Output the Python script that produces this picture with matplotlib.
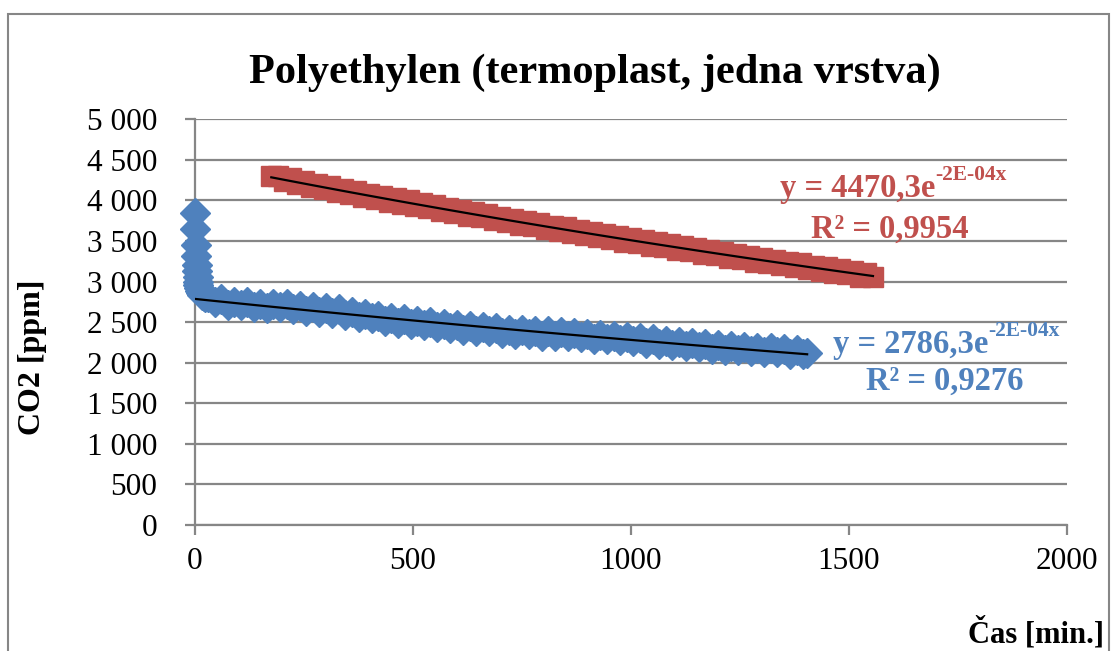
import matplotlib
matplotlib.use("Agg")
import matplotlib.pyplot as plt
import numpy as np
from matplotlib.patches import Rectangle
from matplotlib.ticker import FuncFormatter

plt.rcParams['font.family'] = ['Liberation Serif', 'DejaVu Serif']

# blue series (diamonds)
blue_x = [0, 1, 2, 3, 4, 5, 6, 7, 8, 10, 12, 14, 17, 20, 24,
          30, 45, 60, 75, 90, 105, 120, 135, 150, 165, 180, 195, 210, 225, 240,
          255, 270, 285, 300, 315, 330, 345, 360, 375, 390, 405, 420, 435, 450,
          465, 480, 495, 510, 525, 540, 555, 570, 585, 600, 615, 630, 645, 660,
          675, 690, 705, 720, 735, 750, 765, 780, 795, 810, 825, 840, 855, 870,
          885, 900, 915, 930, 945, 960, 975, 990, 1005, 1020, 1035, 1050, 1065,
          1080, 1095, 1110, 1125, 1140, 1155, 1170, 1185, 1200, 1215, 1230, 1245,
          1260, 1275, 1290, 1305, 1320, 1335, 1350, 1365, 1380, 1395, 1404]
blue_y = [3850, 3645, 3450, 3310, 3210, 3130, 3060, 3000, 2960, 2920, 2885, 2860, 2840, 2820, 2805,
          2810, 2750, 2780, 2715, 2750, 2708, 2747, 2691, 2720, 2675, 2725, 2681, 2722, 2666, 2703,
          2640, 2682, 2630, 2673, 2618, 2656, 2589, 2620, 2558, 2600, 2548, 2577, 2515, 2550,
          2490, 2540, 2482, 2519, 2461, 2496, 2436, 2480, 2426, 2465, 2409, 2448, 2397, 2441,
          2388, 2425, 2364, 2408, 2359, 2403, 2354, 2390, 2335, 2386, 2332, 2373, 2324, 2369,
          2318, 2357, 2296, 2340, 2289, 2333, 2281, 2319, 2262, 2300, 2242, 2289, 2236,
          2273, 2215, 2252, 2200, 2243, 2191, 2230, 2174, 2214, 2159, 2209, 2159,
          2199, 2144, 2184, 2134, 2179, 2129, 2163, 2113, 2152, 2107, 2122]

# red series (squares)
red_x = [175, 190, 205, 220, 235, 250, 265, 280, 295, 310, 325, 340, 355, 370, 385,
         400, 415, 430, 445, 460, 475, 490, 505, 520, 535, 550, 565, 580, 595, 610,
         625, 640, 655, 670, 685, 700, 715, 730, 745, 760, 775, 790, 805, 820, 835,
         850, 865, 880, 895, 910, 925, 940, 955, 970, 985, 1000, 1015, 1030, 1045,
         1060, 1075, 1090, 1105, 1120, 1135, 1150, 1165, 1180, 1195, 1210, 1225,
         1240, 1255, 1270, 1285, 1300, 1315, 1330, 1345, 1360, 1375, 1390, 1405,
         1420, 1435, 1450, 1465, 1480, 1495, 1510, 1525, 1540, 1555]
red_y = [4305, 4300, 4239, 4274, 4198, 4238, 4163, 4203, 4137, 4177, 4102, 4142, 4082, 4118, 4043,
         4083, 4018, 4059, 3984, 4025, 3960, 4001, 3926, 3967, 3903, 3944, 3869, 3910, 3846, 3887,
         3813, 3854, 3790, 3832, 3758, 3799, 3735, 3777, 3703, 3745, 3681, 3723, 3649, 3691, 3628,
         3670, 3596, 3638, 3575, 3617, 3544, 3586, 3523, 3566, 3493, 3535, 3472, 3515, 3442,
         3484, 3422, 3464, 3392, 3435, 3372, 3415, 3343, 3385, 3323, 3366, 3294,
         3337, 3275, 3318, 3246, 3289, 3227, 3271, 3199, 3242, 3181, 3224, 3152,
         3196, 3134, 3178, 3107, 3150, 3089, 3133, 3061, 3100, 3059]

# exponential trendlines  y = a*exp(b*x)
blue_a, blue_b = 2786.3, -2.0e-4
red_a, red_b = 4470.3, -2.42e-4

blue_c = '#4F81BD'
red_c = '#C0504D'
grid_c = '#868686'

fig = plt.figure(figsize=(11.18, 6.51), dpi=100)
ax = fig.add_axes([195/1118, 1 - 525/651, 872/1118, (525 - 119.3)/651])

ax.plot(blue_x, blue_y, 'D', color=blue_c, ms=15, mec=blue_c, zorder=3, clip_on=False)
ax.plot(red_x, red_y, 's', color=red_c, ms=15, mec=red_c, zorder=3, clip_on=False)

bx = np.linspace(min(blue_x), max(blue_x), 100)
rx = np.linspace(min(red_x), max(red_x), 100)
ax.plot(bx, blue_a * np.exp(blue_b * bx), color='black', lw=1.6, zorder=4)
ax.plot(rx, red_a * np.exp(red_b * rx), color='black', lw=1.6, zorder=4)

ax.set_xlim(0, 2000)
ax.set_ylim(0, 5000)
ax.set_xticks(range(0, 2001, 500))
ax.set_yticks(range(0, 5001, 500))
ax.yaxis.set_major_formatter(FuncFormatter(lambda v, p: f"{int(v):,}".replace(",", " ")))
ax.grid(axis='y', color=grid_c, lw=1.6)
ax.set_axisbelow(True)
for s in ['top', 'right']:
    ax.spines[s].set_visible(False)
for s in ['left', 'bottom']:
    ax.spines[s].set_color(grid_c)
    ax.spines[s].set_linewidth(1.6)
ax.tick_params(direction='out', length=7, width=1.6, color=grid_c, labelsize=22.5)
ax.tick_params(axis='y', pad=20)
ax.tick_params(axis='x', pad=9)

fig.text(595/1118, 1 - 73/651, "Polyethylen (termoplast, jedna vrstva)", fontsize=30.5,
         fontweight='bold', ha='center', va='center')
fig.text(33/1118, 1 - 357/651, "CO2 [ppm]", rotation=90, fontsize=23, fontweight='bold',
         ha='center', va='center')
fig.text(1104/1118, 1 - 633/651, "Čas [min.]", fontsize=22, fontweight='bold', ha='right', va='center')

# trendline equations
def equation(x, y, a, color):
    t = fig.text(x/1118, 1 - y/651, f"y = {a}e", fontsize=23.5, fontweight='bold', color=color,
                 ha='left', va='baseline')
    ax.annotate("-2E-04x", xy=(1, 0.62), xycoords=t, fontsize=15.5, fontweight='bold', color=color,
                ha='left', va='bottom')

equation(780, 197, "4470,3", red_c)
fig.text(890/1118, 1 - 238/651, "R² = 0,9954", fontsize=23.5, fontweight='bold', color=red_c,
         ha='center', va='baseline')
equation(833, 353, "2786,3", blue_c)
fig.text(945/1118, 1 - 390/651, "R² = 0,9276", fontsize=23.5, fontweight='bold', color=blue_c,
         ha='center', va='baseline')

fig.patches.append(Rectangle((8/1118, -0.05), (1109 - 8)/1118, 1.05 - 14/651, transform=fig.transFigure,
                             fill=False, edgecolor=grid_c, lw=1.5))

fig.savefig("out.png", dpi=100)
